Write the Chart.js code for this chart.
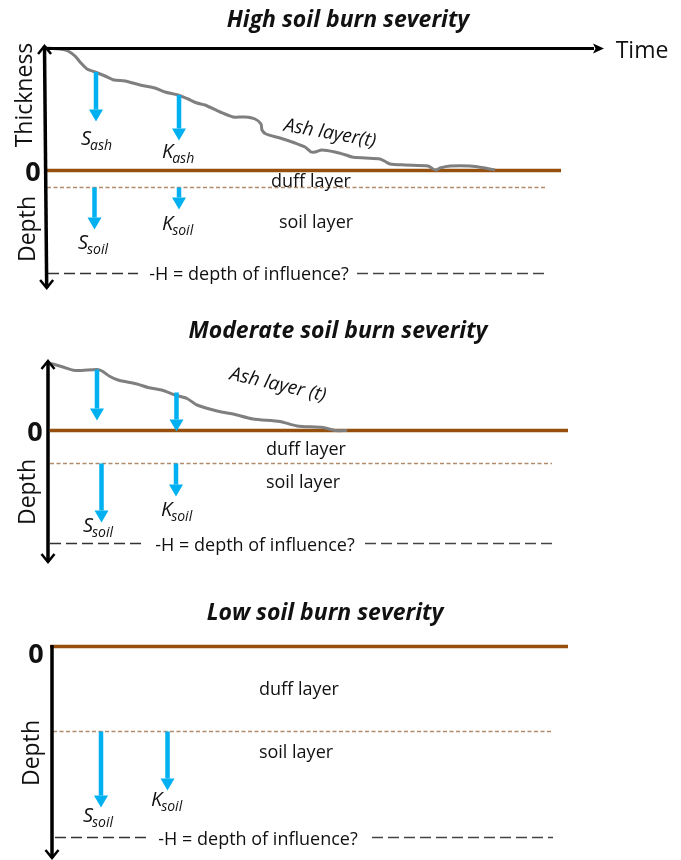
<!DOCTYPE html>
<html>
<head>
<meta charset="utf-8">
<title>Soil burn severity</title>
<script src="https://cdn.jsdelivr.net/npm/chart.js@4"></script>
<style>
    body { margin: 0; background: #fff; }
    canvas { position: absolute; left: 0; }
</style>
</head>
<body>
<canvas id="high-chart" width="681" height="300" style="top:0"></canvas>
<canvas id="moderate-chart" width="681" height="270" style="top:300px"></canvas>
<canvas id="low-chart" width="681" height="290" style="top:570px"></canvas>
<script>
const BROWN = "#974f0e";
const TAN = "#b08a6c";
const BLUE = "#00b0f0";
const GREY = "#7f7f7f";
const FONT = '"Open Sans"';

// Ash layer thickness over time
const highAshTime = [45, 60, 68, 75, 80, 87, 95, 105, 114, 125, 140, 155, 165, 178, 188, 197, 205, 220, 233, 245, 255, 261, 262, 266, 280, 295, 305, 311, 315, 322, 335, 346, 352, 365, 380, 386, 390, 405, 428, 433, 436, 440, 450, 470, 485, 495];
const highAshThickness = [122.5, 121.5, 119.5, 114.5, 108.5, 101.5, 98.5, 94.5, 90.5, 89.5, 85.5, 82.5, 78.5, 75.5, 71.5, 67.5, 65.5, 58.5, 53.5, 53.5, 51.5, 46.5, 40.5, 36.5, 32.5, 27.5, 23.5, 18.5, 18.5, 20.5, 18.5, 15.5, 13.5, 12.5, 11.5, 8.5, 6.5, 5.5, 4.5, 1.5, 0.5, 2.5, 4.5, 4.5, 2.5, 0.5];
const moderateAshTime = [51, 63, 75, 97, 102, 110, 118, 137, 148, 163, 175, 187, 197, 217, 233, 253, 280, 297, 323, 335, 347];
const moderateAshThickness = [67, 63.5, 60, 61, 59.5, 54, 50.5, 46.5, 43, 40, 35.5, 32, 25.5, 19.5, 16.5, 11.5, 9, 4.5, 3, 0, 0];

// Layer boundaries: [depth, start time, end time]
const highSurface = [0, 47, 561];
const highDuff = [-17, 47, 546];
const highInfluenceDepth = -103;
const highInfluenceLeft = [48, 138];
const highInfluenceRight = [357, 546];
const moderateSurface = [0, 50, 568];
const moderateDuff = [-33, 50, 552];
const moderateInfluenceDepth = -113;
const moderateInfluenceLeft = [50, 145];
const moderateInfluenceRight = [365, 552];
const lowSurface = [0, 50, 568];
const lowDuff = [-85, 53, 553];
const lowInfluenceDepth = -191;
const lowInfluenceLeft = [55, 147];
const lowInfluenceRight = [372, 553];

// Infiltration arrows: time, top of shaft, end of shaft
const highFluxTime = [96, 179, 94.5, 179];
const highFluxTop = [98.5, 75.5, -17, -17];
const highFluxEnd = [61, 42, -47, -27];
const moderateFluxTime = [97, 176.5, 101.5, 176];
const moderateFluxTop = [61, 38, -33, -33];
const moderateFluxEnd = [22, 11, -80, -54];
const lowFluxTime = [101, 167.5];
const lowFluxTop = [-85, -85];
const lowFluxEnd = [-149, -132];

// Axis ends: [time, value]
const highDepthAxis = [[44.5, 124.5], [46.7, -117.5]];
const highTimeAxis = [[45, 122], [594, 122]];
const moderateDepthAxis = [[48, 69.5], [48, -131.5]];
const lowDepthAxis = [[52, 1.5], [52, -211.5]];

const highLabels = [
    { text: "High soil burn severity", x: 348, y: 150.5, font: "italic bold 23px" },
    { text: "Time", x: 642, y: 119.5, font: "23px" },
    { text: "Thickness", x: 25, y: 75.5, font: "23px", rotation: -90 },
    { text: "Depth", x: 28, y: -58.5, font: "23px", rotation: -90 },
    { text: "0", x: 33, y: -2.5, font: "bold 27px" },
    { text: "Ash layer(t)", x: 330, y: 37, font: "italic 19px", rotation: 10 },
    { text: "duff layer", x: 311, y: -11.5, font: "18px" },
    { text: "soil layer", x: 316, y: -52.5, font: "18px" },
    { text: "-H = depth of influence?", x: 249, y: -104.5, font: "18px" }
];
const highSymbols = [
    { main: "S", sub: "ash", x: 81, y: 25.5 },
    { main: "K", sub: "ash", x: 162, y: 12.5 },
    { main: "S", sub: "soil", x: 78, y: -78.5 },
    { main: "K", sub: "soil", x: 162, y: -59.5 }
];
const moderateLabels = [
    { text: "Moderate soil burn severity", x: 338, y: 99.5, font: "italic bold 23px" },
    { text: "Depth", x: 28, y: -61.5, font: "23px", rotation: -90 },
    { text: "0", x: 35, y: -2.5, font: "bold 27px" },
    { text: "Ash layer (t)", x: 278, y: 45.5, font: "italic 19px", rotation: 13 },
    { text: "duff layer", x: 306, y: -19.5, font: "18px" },
    { text: "soil layer", x: 303, y: -52.5, font: "18px" },
    { text: "-H = depth of influence?", x: 255, y: -115.5, font: "18px" }
];
const moderateSymbols = [
    { main: "S", sub: "soil", x: 83, y: -101 },
    { main: "K", sub: "soil", x: 161, y: -85.5 }
];
const lowLabels = [
    { text: "Low soil burn severity", x: 325, y: 33, font: "italic bold 23px" },
    { text: "Depth", x: 32, y: -106.5, font: "23px", rotation: -90 },
    { text: "0", x: 36, y: -8.5, font: "bold 27px" },
    { text: "duff layer", x: 299, y: -43.5, font: "18px" },
    { text: "soil layer", x: 296, y: -106.5, font: "18px" },
    { text: "-H = depth of influence?", x: 258, y: -193.5, font: "18px" }
];
const lowSymbols = [
    { main: "S", sub: "soil", x: 83, y: -175.5 },
    { main: "K", sub: "soil", x: 151, y: -159.5 }
];

function drawHead(ctx, from, to, kind) {
    const angle = Math.atan2(to.y - from.y, to.x - from.x);
    ctx.save();
    ctx.translate(to.x, to.y);
    ctx.rotate(angle);
    ctx.beginPath();
    if (kind === "open") {
        ctx.moveTo(-8, -6.5);
        ctx.lineTo(0, 0);
        ctx.lineTo(-8, 6.5);
        ctx.strokeStyle = "#000";
        ctx.lineWidth = 2.5;
        ctx.stroke();
    } else if (kind === "stealth") {
        ctx.moveTo(10, 0);
        ctx.lineTo(-1, -5);
        ctx.lineTo(1.5, 0);
        ctx.lineTo(-1, 5);
        ctx.closePath();
        ctx.fillStyle = "#000";
        ctx.fill();
    } else {
        ctx.moveTo(12, 0);
        ctx.lineTo(0, -7);
        ctx.lineTo(0, 7);
        ctx.closePath();
        ctx.fillStyle = BLUE;
        ctx.fill();
    }
    ctx.restore();
}

// Arrow heads and text, placed through the chart's scales
const annotatePlugin = {
    id: "annotate",
    afterDatasetsDraw(chart, args, opts) {
        const ctx = chart.ctx;
        const xs = chart.scales.x;
        const ys = chart.scales.y;
        const toPixel = (p) => ({ x: xs.getPixelForValue(p.x), y: ys.getPixelForValue(p.y) });

        chart.data.datasets.forEach((ds) => {
            if (!ds.head) return;
            const pts = ds.data.map(toPixel);
            drawHead(ctx, pts[pts.length - 2], pts[pts.length - 1], ds.head);
            if (ds.bothEnds) drawHead(ctx, pts[1], pts[0], ds.head);
        });

        ctx.fillStyle = "#111";
        opts.labels.forEach((l) => {
            ctx.save();
            ctx.translate(xs.getPixelForValue(l.x), ys.getPixelForValue(l.y));
            ctx.rotate((l.rotation || 0) * Math.PI / 180);
            ctx.font = l.font + " " + FONT;
            ctx.textAlign = "center";
            ctx.textBaseline = "middle";
            ctx.fillText(l.text, 0, 0);
            ctx.restore();
        });

        opts.symbols.forEach((s) => {
            const px = xs.getPixelForValue(s.x);
            const py = ys.getPixelForValue(s.y);
            ctx.textAlign = "left";
            ctx.textBaseline = "alphabetic";
            ctx.font = "italic 20px " + FONT;
            ctx.fillText(s.main, px, py);
            const w = ctx.measureText(s.main).width;
            ctx.font = "italic 14px " + FONT;
            ctx.fillText(s.sub, px + w - 1, py + 5);
        });
    }
};

function segment(x0, x1, y0, y1, color, width, extra) {
    return Object.assign({
        data: [{ x: x0, y: y0 }, { x: x1, y: y1 }],
        borderColor: color,
        borderWidth: width,
        pointRadius: 0
    }, extra);
}

function fluxDatasets(time, top, end) {
    return time.map((t, i) => segment(t, t, top[i], end[i], BLUE, 4.5, { head: "solid" }));
}

function toPoints(xs, ys) {
    return xs.map((x, i) => ({ x: x, y: ys[i] }));
}

function influenceDatasets(depth, left, right) {
    const dash = { borderDash: [11, 5] };
    return [
        segment(left[0], left[1], depth, depth, "#333", 1.4, dash),
        segment(right[0], right[1], depth, depth, "#444", 1.4, dash)
    ];
}

function makeChart(id, yMax, yMin, datasets, labels, symbols) {
    return new Chart(document.getElementById(id), {
        type: "scatter",
        data: { datasets: datasets.map((d) => Object.assign({ showLine: true }, d)) },
        options: {
            responsive: false,
            animation: false,
            layout: { padding: 0 },
            scales: {
                x: { type: "linear", display: false, min: 0, max: 681 },
                y: { type: "linear", display: false, min: yMin, max: yMax }
            },
            plugins: {
                legend: { display: false },
                tooltip: { enabled: false },
                annotate: { labels: labels, symbols: symbols }
            }
        },
        plugins: [annotatePlugin]
    });
}

function axisSet(axis, bothEnds) {
    return segment(axis[0][0], axis[1][0], axis[0][1], axis[1][1], "#000", 3.5, { head: "open", bothEnds: bothEnds });
}

function ashSet(time, thickness) {
    return { data: toPoints(time, thickness), borderColor: GREY, borderWidth: 3, pointRadius: 0, tension: 0.25 };
}

function layerSets(surface, duff) {
    return [
        segment(surface[1], surface[2], surface[0], surface[0], BROWN, 3.5),
        segment(duff[1], duff[2], duff[0], duff[0], TAN, 1.4, { borderDash: [4, 2.5] })
    ];
}

makeChart("high-chart", 170.5, -129.5, [
    axisSet(highDepthAxis, true),
    segment(highTimeAxis[0][0], highTimeAxis[1][0], highTimeAxis[0][1], highTimeAxis[1][1], "#000", 3, { head: "stealth" }),
    ...fluxDatasets(highFluxTime, highFluxTop, highFluxEnd),
    ashSet(highAshTime, highAshThickness),
    ...layerSets(highSurface, highDuff),
    ...influenceDatasets(highInfluenceDepth, highInfluenceLeft, highInfluenceRight)
], highLabels, highSymbols);

makeChart("moderate-chart", 130.5, -139.5, [
    axisSet(moderateDepthAxis, true),
    ...fluxDatasets(moderateFluxTime, moderateFluxTop, moderateFluxEnd),
    ashSet(moderateAshTime, moderateAshThickness),
    ...layerSets(moderateSurface, moderateDuff),
    ...influenceDatasets(moderateInfluenceDepth, moderateInfluenceLeft, moderateInfluenceRight)
], moderateLabels, moderateSymbols);

makeChart("low-chart", 76.5, -213.5, [
    axisSet(lowDepthAxis, false),
    ...fluxDatasets(lowFluxTime, lowFluxTop, lowFluxEnd),
    ...layerSets(lowSurface, lowDuff),
    ...influenceDatasets(lowInfluenceDepth, lowInfluenceLeft, lowInfluenceRight)
], lowLabels, lowSymbols);
</script>
</body>
</html>
